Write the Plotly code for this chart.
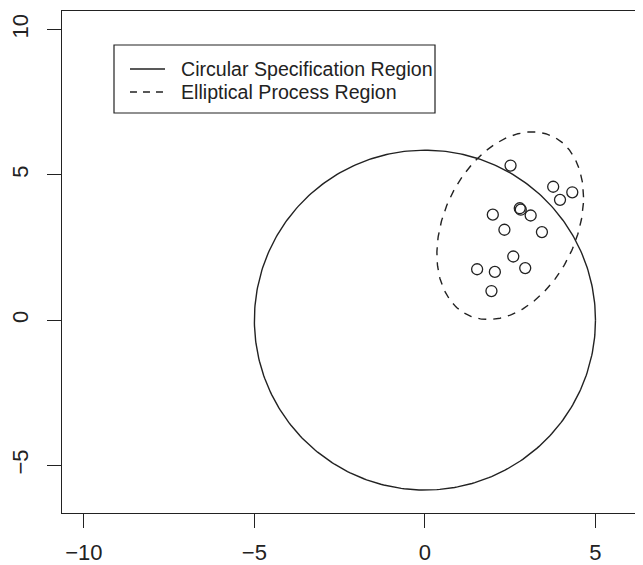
import numpy as np
import plotly.graph_objects as go

# Observed process points
pts_x = [2.51, 3.76, 4.32, 3.96, 1.99, 2.78, 2.81, 3.10, 2.33, 3.43, 2.59, 2.94, 1.53, 2.05, 1.95]
pts_y = [5.32, 4.59, 4.40, 4.14, 3.63, 3.85, 3.80, 3.60, 3.11, 3.03, 2.19, 1.79, 1.75, 1.66, 1.00]

circle_center = [0.0, 0.0]
circle_radius = [5.0, 5.85]

# Elliptical process region (center and shape matrix read from extents)
ell_center = [2.5, 3.25]
ell_S = [[4.62, 2.10], [2.10, 10.43]]

x_ticks = [-10, -5, 0, 5]
y_ticks = [-5, 0, 5, 10]

legend_names = ["Circular Specification Region", "Elliptical Process Region"]

t = np.linspace(0, 2 * np.pi, 361)
cx = circle_center[0] + circle_radius[0] * np.cos(t)
cy = circle_center[1] + circle_radius[1] * np.sin(t)

L = np.linalg.cholesky(np.array(ell_S))
ex = ell_center[0] + L[0, 0] * np.cos(t)
ey = ell_center[1] + L[1, 0] * np.cos(t) + L[1, 1] * np.sin(t)

ink = "#222222"
dash = "8px,7px"
fig = go.Figure()
fig.add_trace(go.Scatter(x=cx, y=cy, mode="lines", name=legend_names[0], showlegend=False,
                         line=dict(color=ink, width=1.4)))
fig.add_trace(go.Scatter(x=ex, y=ey, mode="lines", name=legend_names[1], showlegend=False,
                         line=dict(color=ink, width=1.4, dash=dash)))
fig.add_trace(go.Scatter(x=pts_x, y=pts_y, mode="markers", showlegend=False,
                         marker=dict(symbol="circle-open", size=11, color=ink,
                                     line=dict(width=1.3, color=ink))))

font = dict(family="Liberation Sans, Arial, sans-serif", color="#222222")

# Legend drawn as a boxed key in paper coordinates
box = dict(x0=0.0895, x1=0.642, y0=0.7968, y1=0.9323)
row_y = [0.8845, 0.8386]
fig.add_shape(type="rect", xref="paper", yref="paper", line=dict(color=ink, width=1.2),
              fillcolor="white", **box)
for i, name in enumerate(legend_names):
    fig.add_shape(type="line", xref="paper", yref="paper", x0=0.117, x1=0.1773,
                  y0=row_y[i], y1=row_y[i],
                  line=dict(color=ink, width=1.4, dash=None if i == 0 else "7px,6px"))
    fig.add_annotation(xref="paper", yref="paper", x=0.2015, y=row_y[i], text=name,
                       showarrow=False, xanchor="left", yanchor="middle",
                       font=dict(size=19.6, **font))

# The page adds an 8px body margin, so the figure is sized to fill the rest of the window
fig.update_layout(
    width=635, height=557,
    margin=dict(l=54, r=0, t=3, b=52),
    paper_bgcolor="white", plot_bgcolor="white",
    font=font,
    showlegend=False,
)
fig.update_xaxes(range=[-10.64, 6.393], tickvals=x_ticks, ticks="outside", ticklen=14,
                 tickcolor=ink, showline=True, linecolor=ink, linewidth=1.2, mirror=True,
                 showgrid=False, zeroline=False, tickfont=dict(size=22, **font),
                 ticklabelstandoff=5, automargin=False)
fig.update_yaxes(range=[-6.64, 10.64], tickvals=y_ticks, ticks="outside", ticklen=14,
                 tickcolor=ink, showline=True, linecolor=ink, linewidth=1.2, mirror=False,
                 showgrid=False, zeroline=False, tickfont=dict(size=22, **font),
                 tickangle=-90, ticklabelstandoff=10, automargin=False)

fig.write_html("out.html")
